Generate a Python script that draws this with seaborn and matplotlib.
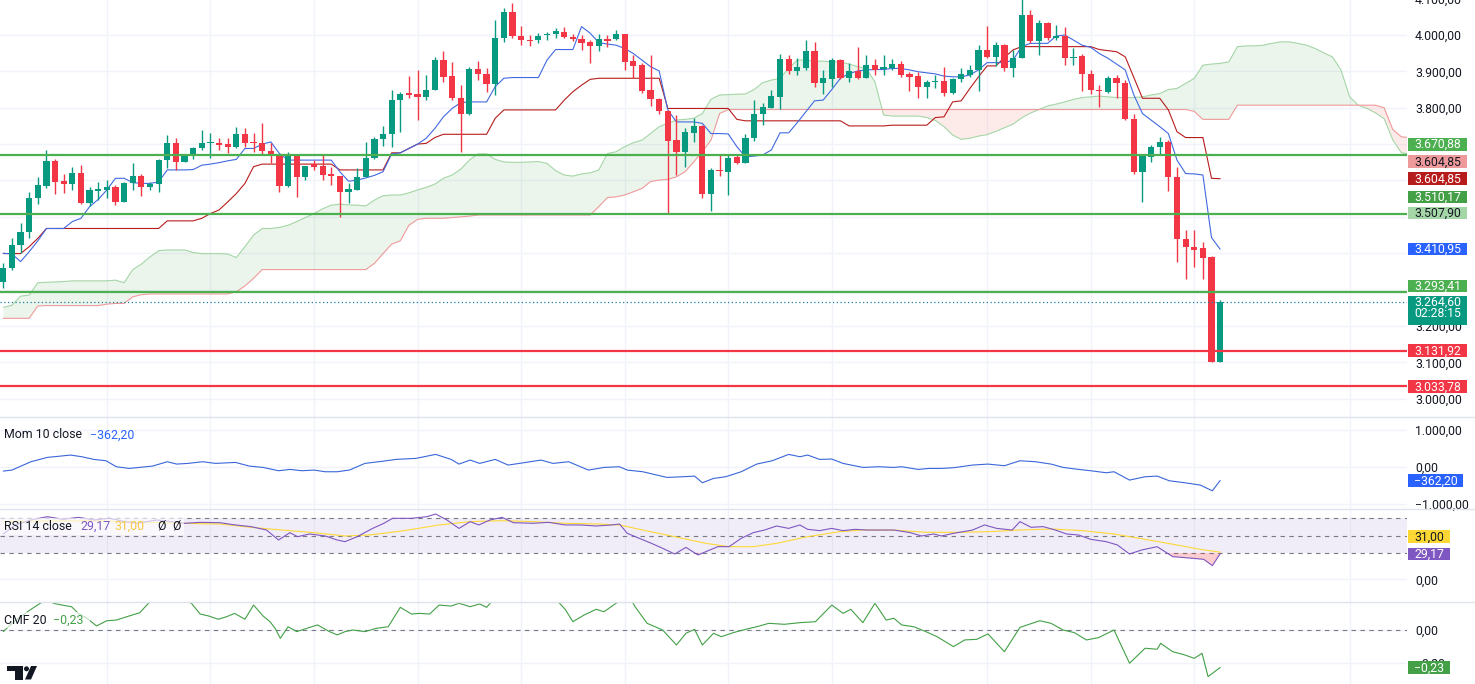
import matplotlib
matplotlib.use("Agg")
import matplotlib.pyplot as plt
import matplotlib.transforms as mtransforms
from matplotlib.patches import Rectangle, Polygon, Ellipse
from matplotlib.lines import Line2D
import numpy as np
import pandas as pd
import seaborn as sns

# ---------------------------------------------------------------- data
opens = [3322, 3358, 3422, 3457, 3551, 3586, 3653, 3598, 3589, 3620,
         3539, 3572, 3574, 3581, 3541, 3592, 3612, 3581, 3590, 3656,
         3702, 3652, 3671, 3688, 3702, 3704, 3699, 3691, 3727, 3706,
         3704, 3682, 3670, 3585, 3670, 3610, 3644, 3640, 3617, 3612,
         3569, 3575, 3610, 3661, 3713, 3727, 3821, 3841, 3837, 3830,
         3850, 3931, 3887, 3828, 3782, 3906, 3893, 3865, 3991, 4064,
         3997, 3986, 3986, 3999, 4002, 4009, 3995, 3988, 3980, 3970,
         3988, 3988, 4002, 3928, 3917, 3849, 3824, 3792, 3711, 3679,
         3731, 3750, 3563, 3629, 3624, 3665, 3649, 3716, 3784, 3800,
         3830, 3933, 3902, 3908, 3957, 3869, 3879, 3931, 3883, 3901,
         3882, 3917, 3906, 3908, 3920, 3892, 3887, 3856, 3871, 3874,
         3841, 3878, 3890, 3904, 3958, 3940, 3972, 3908, 3938, 4055,
         3984, 4034, 3993, 3997, 3938, 3942, 3893, 3850, 3844, 3882,
         3867, 3768, 3624, 3665, 3691, 3706, 3610, 3440, 3418, 3413,
         3390, 3102]
highs = [3372, 3443, 3482, 3569, 3610, 3684, 3658, 3618, 3638, 3642,
         3583, 3596, 3601, 3587, 3596, 3647, 3618, 3595, 3658, 3725,
         3716, 3673, 3693, 3739, 3731, 3716, 3716, 3748, 3743, 3731,
         3759, 3702, 3673, 3677, 3674, 3640, 3656, 3670, 3638, 3612,
         3592, 3633, 3706, 3720, 3750, 3850, 3844, 3887, 3904, 3890,
         3940, 3957, 3926, 3862, 3913, 3928, 3908, 4041, 4073, 4087,
         4025, 4000, 4006, 4009, 4018, 4021, 4004, 4000, 3986, 4002,
         4000, 4014, 4004, 3945, 3922, 3945, 3826, 3794, 3780, 3743,
         3771, 3752, 3633, 3672, 3670, 3670, 3727, 3821, 3812, 3849,
         3948, 3945, 3936, 3986, 3981, 3904, 3938, 3933, 3922, 3966,
         3945, 3934, 3945, 3933, 3929, 3899, 3899, 3876, 3890, 3913,
         3881, 3908, 3917, 3972, 4025, 3981, 3975, 3958, 4100, 4070,
         4041, 4036, 4027, 4021, 3963, 3948, 3904, 3862, 3887, 3890,
         3876, 3784, 3673, 3697, 3720, 3711, 3638, 3465, 3464, 3432,
         3392, 3271]
lows = [3303, 3354, 3400, 3441, 3535, 3580, 3564, 3566, 3575, 3535,
        3530, 3546, 3551, 3532, 3541, 3573, 3557, 3575, 3569, 3633,
        3630, 3650, 3658, 3684, 3661, 3684, 3676, 3688, 3693, 3679,
        3670, 3649, 3569, 3583, 3555, 3601, 3630, 3601, 3587, 3500,
        3539, 3574, 3610, 3658, 3695, 3693, 3734, 3826, 3766, 3821,
        3849, 3871, 3821, 3679, 3780, 3876, 3844, 3835, 3981, 3991,
        3972, 3970, 3977, 3986, 3991, 3991, 3984, 3960, 3924, 3957,
        3968, 3986, 3904, 3881, 3841, 3805, 3784, 3509, 3615, 3638,
        3706, 3553, 3517, 3612, 3560, 3645, 3647, 3709, 3752, 3798,
        3796, 3893, 3890, 3904, 3856, 3838, 3856, 3878, 3871, 3879,
        3881, 3890, 3890, 3904, 3885, 3847, 3828, 3826, 3853, 3832,
        3838, 3871, 3885, 3847, 3938, 3915, 3902, 3885, 3936, 3977,
        3945, 3986, 3986, 3917, 3917, 3847, 3837, 3803, 3841, 3826,
        3766, 3619, 3541, 3651, 3670, 3572, 3376, 3328, 3363, 3328,
        3100, 3100]
closes = [3358, 3422, 3457, 3551, 3587, 3653, 3596, 3589, 3620, 3539,
          3574, 3576, 3581, 3541, 3594, 3612, 3581, 3590, 3656, 3702,
          3652, 3673, 3688, 3702, 3704, 3697, 3691, 3727, 3704, 3702,
          3682, 3667, 3585, 3670, 3610, 3640, 3638, 3615, 3612, 3569,
          3576, 3610, 3661, 3713, 3727, 3821, 3839, 3835, 3830, 3850,
          3931, 3885, 3826, 3784, 3906, 3893, 3865, 3991, 4064, 3997,
          3986, 3983, 3997, 4004, 4011, 3995, 3988, 3979, 3970, 3988,
          3984, 4002, 3926, 3915, 3847, 3823, 3792, 3709, 3679, 3732,
          3750, 3563, 3629, 3625, 3663, 3649, 3716, 3784, 3803, 3832,
          3933, 3901, 3911, 3957, 3869, 3881, 3931, 3881, 3901, 3882,
          3917, 3905, 3911, 3920, 3890, 3885, 3856, 3871, 3873, 3841,
          3878, 3893, 3904, 3958, 3940, 3972, 3908, 3938, 4055, 3984,
          4034, 3993, 3997, 3938, 3940, 3893, 3849, 3847, 3882, 3867,
          3768, 3624, 3670, 3693, 3706, 3610, 3438, 3416, 3410, 3388,
          3102, 3264.60]

tenkan = [3400, 3398, 3377, 3404, 3434, 3468, 3468, 3468, 3487, 3496,
          3528, 3548, 3574, 3606, 3606, 3594, 3592, 3592, 3596, 3629,
          3629, 3629, 3630, 3642, 3645, 3649, 3654, 3658, 3688, 3688,
          3700, 3706, 3674, 3656, 3656, 3656, 3656, 3656, 3656, 3624,
          3598, 3601, 3607, 3614, 3624, 3673, 3676, 3688, 3700, 3716,
          3743, 3775, 3798, 3814, 3816, 3816, 3816, 3858, 3881, 3883,
          3883, 3883, 3883, 3931, 3960, 3960, 3960, 4023, 4005, 3979,
          3975, 3972, 3963, 3949, 3931, 3913, 3901, 3794, 3761, 3761,
          3761, 3757, 3729, 3729, 3728, 3693, 3665, 3667, 3670, 3684,
          3731, 3731, 3759, 3789, 3819, 3821, 3850, 3881, 3894, 3901,
          3904, 3905, 3905, 3908, 3908, 3904, 3899, 3896, 3893, 3887,
          3885, 3885, 3890, 3904, 3924, 3924, 3924, 3931, 3968, 3977,
          3977, 3977, 3997, 4000, 3986, 3972, 3966, 3949, 3936, 3920,
          3904, 3835, 3784, 3766, 3748, 3729, 3656, 3619, 3618, 3615,
          3443, 3410.95]
kijun = [3399, 3399, 3399, 3418, 3441, 3468, 3468, 3468, 3468, 3468,
         3468, 3468, 3468, 3468, 3468, 3468, 3468, 3468, 3468, 3489,
         3489, 3489, 3489, 3496, 3509, 3519, 3541, 3564, 3592, 3638,
         3645, 3645, 3645, 3645, 3645, 3645, 3645, 3645, 3645, 3629,
         3629, 3629, 3629, 3629, 3629, 3676, 3676, 3688, 3700, 3702,
         3718, 3727, 3727, 3727, 3727, 3727, 3727, 3771, 3794, 3794,
         3794, 3794, 3794, 3794, 3794, 3821, 3844, 3862, 3878, 3881,
         3881, 3881, 3881, 3881, 3881, 3881, 3881, 3798, 3798, 3798,
         3798, 3798, 3798, 3798, 3798, 3768, 3764, 3764, 3764, 3764,
         3764, 3764, 3764, 3764, 3764, 3764, 3764, 3764, 3750, 3750,
         3750, 3750, 3750, 3752, 3752, 3752, 3752, 3752, 3773, 3775,
         3816, 3819, 3853, 3885, 3915, 3915, 3938, 3959, 3968, 3968,
         3968, 3968, 3968, 3968, 3968, 3968, 3968, 3960, 3957, 3954,
         3940, 3883, 3826, 3826, 3826, 3794, 3734, 3718, 3718, 3718,
         3606, 3604.85]
span_a = [3251, 3257, 3282, 3285, 3319, 3320, 3321, 3322, 3324, 3324,
          3324, 3324, 3324, 3326, 3319, 3355, 3370, 3390, 3407, 3409,
          3409, 3409, 3402, 3399, 3399, 3399, 3398, 3388, 3418, 3450,
          3468, 3468, 3471, 3477, 3487, 3498, 3509, 3522, 3532, 3535,
          3533, 3532, 3530, 3546, 3558, 3560, 3560, 3566, 3574, 3581,
          3590, 3606, 3615, 3631, 3656, 3673, 3673, 3658, 3651, 3650,
          3650, 3651, 3652, 3647, 3627, 3615, 3612, 3618, 3621, 3629,
          3674, 3679, 3693, 3704, 3711, 3729, 3748, 3757, 3766, 3768,
          3771, 3784, 3823, 3835, 3836, 3837, 3838, 3850, 3869, 3876,
          3881, 3908, 3931, 3931, 3928, 3928, 3926, 3926, 3920, 3913,
          3908, 3871, 3780, 3777, 3777, 3777, 3777, 3773, 3765, 3748,
          3725, 3713, 3716, 3722, 3726, 3735, 3745, 3755, 3772, 3785,
          3795, 3805, 3810, 3816, 3823, 3828, 3830, 3832, 3830, 3828,
          3828, 3828, 3830, 3835, 3839, 3850, 3853, 3867, 3881, 3917,
          3920, 3922, 3926, 3968, 3970, 3970, 3972, 3977, 3981, 3981,
          3977, 3972, 3963, 3951, 3940, 3904, 3830, 3807, 3798, 3786,
          3770, 3712, 3676, 3673]
span_b = [3221, 3221, 3221, 3221, 3255, 3256, 3256, 3256, 3256, 3256,
          3256, 3256, 3260, 3262, 3262, 3280, 3286, 3288, 3288, 3288,
          3288, 3288, 3288, 3288, 3288, 3288, 3288, 3294, 3310, 3331,
          3355, 3355, 3355, 3355, 3355, 3355, 3355, 3355, 3355, 3355,
          3355, 3355, 3355, 3372, 3399, 3425, 3434, 3477, 3493, 3496,
          3496, 3496, 3498, 3500, 3502, 3505, 3505, 3505, 3505, 3505,
          3505, 3505, 3505, 3505, 3505, 3505, 3505, 3505, 3505, 3528,
          3553, 3555, 3560, 3569, 3578, 3597, 3601, 3603, 3610, 3624,
          3651, 3679, 3711, 3784, 3795, 3795, 3795, 3795, 3795, 3795,
          3795, 3795, 3795, 3795, 3795, 3795, 3795, 3795, 3795, 3795,
          3795, 3795, 3795, 3795, 3795, 3795, 3795, 3795, 3795, 3795,
          3795, 3795, 3795, 3795, 3795, 3795, 3795, 3795, 3795, 3795,
          3795, 3795, 3795, 3795, 3795, 3795, 3795, 3795, 3795, 3795,
          3795, 3795, 3795, 3795, 3795, 3795, 3795, 3795, 3790, 3768,
          3768, 3768, 3768, 3807, 3807, 3807, 3807, 3807, 3807, 3807,
          3807, 3807, 3807, 3807, 3807, 3807, 3807, 3807, 3807, 3807,
          3800, 3740, 3720, 3718]

mom_points = [(0, -108), (1.0, -81), (3.2, 144), (5.1, 261), (7.8, 324), (9.1, 279),
              (10.5, 207), (11.9, 171), (13.1, 9), (14.6, -36), (17.3, 27), (19.0, 144),
              (20.1, 81), (21.4, 99), (23.1, 144), (24.6, 99), (26.9, 126), (28.5, 27),
              (30.1, -9), (31.9, -99), (33.2, -63), (34.6, -99), (36.0, -81), (37.3, -126),
              (38.7, -126), (40.1, -81), (41.9, 99), (44.1, 162), (45.5, 207), (47.8, 234),
              (50.1, 342), (51.9, 207), (52.8, 81), (54.1, 189), (55.2, 99), (57.0, 207),
              (58.5, 54), (60.3, 117), (62.3, 189), (63.7, 99), (65.5, 144), (67.8, -81),
              (69.6, -9), (71.4, 9), (72.3, -81), (74.1, -126), (76.9, -279), (78.7, -261),
              (80.1, -243), (81.0, -423), (82.3, -306), (83.7, -261), (85.5, -126), (87.3, 81),
              (89.1, 171), (91.0, 342), (92.3, 279), (93.2, 324), (94.6, 207), (96.0, 216),
              (97.3, 99), (99.6, -9), (101.4, 9), (103.2, -9), (104.1, 9), (106.0, -63),
              (107.3, -36), (108.7, -36), (110.1, -18), (112.3, 54), (114.1, 81), (116.0, 36),
              (117.8, 171), (119.6, 144), (121.4, 81), (122.8, -9), (124.6, -63), (126.0, -99),
              (127.8, -153), (128.7, -126), (130.5, -351), (132.3, -261), (133.7, -243),
              (135.1, -369), (136.9, -423), (138.7, -486), (140.1, -640), (141.0, -362.20)]

rsi_points = [(0, 51.8), (1.4, 62.1), (3.2, 67.8), (5.1, 71.6), (6.9, 68.5), (8.7, 70.8),
              (10.5, 67.8), (12.3, 69.7), (14.1, 65.9), (15.5, 64.0), (17.8, 67.8), (21.0, 64.0),
              (22.8, 65.1), (25.1, 64.7), (26.9, 62.1), (28.7, 60.2), (30.5, 56.3), (31.9, 44.9),
              (33.2, 53.3), (34.1, 48.7), (35.5, 51.8), (37.3, 49.5), (38.7, 44.9), (39.6, 43.0),
              (41.0, 48.7), (42.8, 58.2), (44.1, 64.0), (45.1, 69.7), (47.3, 69.7), (49.1, 71.6),
              (50.1, 74.6), (51.4, 67.8), (52.8, 58.2), (54.1, 65.9), (55.1, 62.1), (56.4, 67.8),
              (57.8, 70.8), (59.1, 64.7), (61.4, 64.0), (63.2, 65.1), (65.1, 62.1), (66.9, 62.1),
              (68.7, 60.9), (70.5, 62.1), (71.4, 63.2), (72.3, 52.5), (73.7, 46.8), (75.1, 41.1),
              (76.4, 35.4), (77.8, 28.9), (79.1, 36.5), (80.5, 27.8), (81.4, 31.6), (82.8, 37.3),
              (84.1, 37.3), (85.5, 46.8), (86.9, 53.3), (88.2, 56.3), (89.6, 60.9), (91.0, 58.2),
              (92.3, 62.1), (93.2, 57.1), (94.6, 55.6), (96.0, 58.2), (97.3, 55.6), (98.7, 57.1),
              (100.1, 56.3), (101.4, 56.3), (103.2, 56.3), (105.1, 53.3), (106.4, 49.5),
              (107.8, 51.8), (108.7, 49.5), (110.1, 52.5), (112.3, 56.3), (113.7, 62.1),
              (115.1, 58.2), (116.9, 56.3), (117.8, 65.9), (119.1, 59.4), (120.5, 60.2),
              (121.9, 56.3), (123.2, 51.8), (124.6, 50.6), (126.0, 45.7), (127.8, 43.0),
              (129.1, 39.2), (130.5, 28.9), (131.9, 33.5), (133.7, 37.3), (135.5, 25.9),
              (137.8, 24.0), (139.1, 22.8), (140.1, 15.6), (141.0, 29.17)]

rsi_ma_points = [(0, 66.0), (10, 67.0), (20.5, 64.0), (25.1, 63.2), (28.7, 59.4), (32.3, 56.3),
                 (36.0, 53.3), (39.6, 49.5), (42.3, 50.6), (44.1, 52.5), (46.9, 56.3),
                 (50.5, 62.1), (54.1, 65.9), (57.8, 67.0), (61.4, 65.9), (65.1, 64.0),
                 (68.7, 63.2), (71.4, 62.1), (74.1, 56.3), (77.8, 48.7), (81.4, 41.1),
                 (84.1, 37.3), (86.9, 37.3), (89.6, 41.1), (93.2, 48.7), (96.9, 54.4),
                 (99.6, 56.3), (103.2, 56.3), (106.9, 53.7), (110.5, 53.7), (114.1, 54.4),
                 (117.8, 56.3), (121.4, 57.5), (125.1, 55.6), (128.7, 51.8), (132.3, 45.7),
                 (136.0, 39.2), (138.7, 34.2), (141.0, 31.00)]

cmf_points = [(0, -0.010), (0.8, 0.031), (1.9, 0.078), (3.1, 0.123), (4.4, 0.168), (5.1, 0.21),
              (5.8, 0.164), (6.8, 0.153), (7.9, 0.143), (8.7, 0.102), (9.7, 0.072), (10.8, 0.025),
              (12.0, 0.057), (13.1, 0.061), (14.1, 0.078), (15.8, 0.106), (16.9, 0.168),
              (18.0, 0.22), (19.5, 0.24), (20.7, 0.20), (21.8, 0.164), (22.8, 0.098),
              (23.8, 0.086), (24.9, 0.066), (25.9, 0.082), (26.8, 0.102), (28.0, 0.066),
              (29.0, 0.153), (30.1, 0.086), (30.9, 0.051), (31.5, 0.010), (32.1, -0.051),
              (33.0, 0.020), (34.0, -0.010), (35.5, 0.016), (36.4, 0.031), (37.8, -0.010),
              (38.7, -0.030), (39.6, -0.010), (40.5, 0.000), (41.9, -0.010), (43.2, 0.010),
              (44.6, 0.020), (46.0, 0.139), (47.3, 0.098), (48.2, 0.102), (49.4, 0.098),
              (50.5, 0.153), (51.9, 0.147), (52.8, 0.164), (54.1, 0.143), (55.2, 0.160),
              (56.0, 0.139), (57.0, 0.20), (58.5, 0.23), (60.0, 0.18), (60.8, 0.17),
              (62.0, 0.21), (64.0, 0.19), (65.1, 0.127), (66.0, 0.051), (67.3, 0.092),
              (68.7, 0.127), (69.6, 0.112), (71.0, 0.164), (72.0, 0.19), (72.8, 0.18),
              (73.2, 0.143), (74.6, 0.041), (76.4, 0.000), (78.0, -0.092), (79.1, -0.020),
              (80.1, 0.004), (81.0, -0.092), (82.3, -0.020), (83.2, -0.041), (84.6, -0.016),
              (86.0, 0.004), (87.3, 0.020), (88.7, 0.041), (90.5, 0.035), (92.3, 0.045),
              (94.1, 0.051), (96.0, 0.153), (97.3, 0.102), (98.2, 0.127), (99.6, 0.045),
              (101.0, 0.164), (102.3, 0.061), (103.2, 0.072), (104.1, 0.031), (105.5, 0.020),
              (106.9, -0.010), (108.2, -0.041), (110.1, -0.102), (111.4, -0.061),
              (112.8, -0.057), (114.1, -0.024), (116.0, -0.133), (117.8, 0.016),
              (120.1, 0.057), (121.4, 0.041), (122.8, 0.000), (124.1, -0.016), (125.5, -0.061),
              (126.9, -0.047), (128.7, 0.000), (130.5, -0.204), (132.3, -0.112),
              (133.7, -0.118), (134.1, -0.082), (135.5, -0.133), (136.9, -0.153),
              (138.0, -0.174), (138.9, -0.143), (139.6, -0.286), (141.0, -0.23)]

green_levels = [3670.88, 3507.90, 3293.41]
red_levels = [3131.92, 3033.78]
last_price = 3264.60
countdown_text = "02:28:15"
mom_last = -362.20
rsi_last = 29.17
rsi_ma_last = 31.00
cmf_last = -0.23

price_grid = [3000, 3100, 3200, 3300, 3400, 3500, 3600, 3700, 3800, 3900, 4000]
price_labels = [3000, 3100, 3200, 3800, 3900, 4000]   # others are hidden behind value tags
top_cut_tick = 4100
grid_bars = [12, 24, 36, 48, 60, 72, 84, 96, 114, 126, 138, 156]
mom_ticks = [1000, 0, -1000]
rsi_ticks = [0]
rsi_levels = [70, 50, 30]
cmf_ticks = [0, -0.2]

# (value, text, face colour, text colour, vertical shift in px, up = negative)
price_tags = [
    (3670.88, "3.670,88", "#4caf50", "white", -10.4),
    (3604.85, "3.604,85", "#ef9a9a", "#131722", -17.0),
    (3604.85, "3.604,85", "#b71c1c", "white", 0.0),
    (3510.17, "3.510,17", "#43a047", "white", -16.3),
    (3507.90, "3.507,90", "#a5d6a7", "#131722", -1.0),
    (3410.95, "3.410,95", "#2962ff", "white", 0.0),
    (3293.41, "3.293,41", "#4caf50", "white", -6.0),
    (3131.92, "3.131,92", "#f23645", "white", 0.0),
    (3033.78, "3.033,78", "#f23645", "white", 0.0),
]

# ---------------------------------------------------------------- style
sns.set_theme(style="white")
plt.rcParams["font.family"] = ["Roboto", "DejaVu Sans"]

W, H = 1475, 684
fig = plt.figure(figsize=(W / 100, H / 100), dpi=100, facecolor="white")

TXT = "#131722"
GRID = "#f0f3fa"
UP = "#089981"
DN = "#f23645"
FS = 8.8
LW = 0.8


def de_fmt(v, nd=2):
    s = f"{abs(v):,.{nd}f}".replace(",", "X").replace(".", ",").replace("X", ".")
    return ("\u2212" if v < 0 else "") + s


def px_rect(x0, y0, x1, y1):
    return [x0 / W, 1 - y1 / H, (x1 - x0) / W, (y1 - y0) / H]


PLOT_R = 1407
ax = fig.add_axes(px_rect(0, 0, PLOT_R, 417))
ax_mom = fig.add_axes(px_rect(0, 417, PLOT_R, 509))
ax_rsi = fig.add_axes(px_rect(0, 509, PLOT_R, 602))
ax_cmf = fig.add_axes(px_rect(0, 602, PLOT_R, 684))

XL = (-0.3824, 162.65)
limits = {ax: (2949.7, 4096.2), ax_mom: (-1131, 1351), ax_rsi: (-25.94, 80.34),
          ax_cmf: (-0.3313, 0.1718)}
gridlines = {ax: price_grid, ax_mom: mom_ticks, ax_rsi: rsi_ticks, ax_cmf: cmf_ticks}
labels = {ax: price_labels, ax_mom: mom_ticks, ax_rsi: rsi_ticks, ax_cmf: cmf_ticks}

for a in (ax, ax_mom, ax_rsi, ax_cmf):
    a.set_facecolor("white")
    for s in a.spines.values():
        s.set_visible(False)
    for g in grid_bars:
        a.axvline(g, color=GRID, lw=1.0, zorder=0)
    for t in gridlines[a]:
        a.axhline(t, color=GRID, lw=1.0, zorder=0)

# ---------------------------------------------------------------- main panel
n = len(closes)
xi = np.arange(n)
o = np.array(opens, float)
c = np.array(closes, float)
hi = np.array(highs, float)
lo = np.array(lows, float)
cols = np.where(c >= o, UP, DN)

# Ichimoku cloud
xc = np.arange(len(span_a))
A = np.array(span_a, float)
B = np.array(span_b, float)
ax.fill_between(xc, A, B, where=A >= B, interpolate=True, color="#43a047", alpha=0.10, lw=0, zorder=1)
ax.fill_between(xc, A, B, where=A < B, interpolate=True, color="#f44336", alpha=0.10, lw=0, zorder=1)
sns.lineplot(x=xc, y=A, ax=ax, color="#a5d6a7", lw=LW, estimator=None, sort=False, zorder=2)
sns.lineplot(x=xc, y=B, ax=ax, color="#ef9a9a", lw=LW, estimator=None, sort=False, zorder=2)
sns.lineplot(x=xi, y=kijun, ax=ax, color="#b71c1c", lw=LW, estimator=None, sort=False, zorder=2)
sns.lineplot(x=xi, y=tenkan, ax=ax, color="#4169e1", lw=LW, estimator=None, sort=False, zorder=2)

# candles
ax.vlines(xi, lo, hi, colors=cols, lw=1.0, zorder=3)
ax.bar(xi, np.maximum(np.abs(c - o), 2.5), bottom=np.minimum(o, c), width=0.72,
       color=cols, lw=0, zorder=4)

for v in green_levels:
    ax.axhline(v, color="#4caf50", lw=1.6, zorder=5)
for v in red_levels:
    ax.axhline(v, color="#f23645", lw=1.6, zorder=5)
ax.axhline(last_price, color="#1f7fa6", lw=0.9, ls=(0, (1, 2)), zorder=5)

# ---------------------------------------------------------------- Mom
mx, my = zip(*mom_points)
sns.lineplot(x=list(mx), y=list(my), ax=ax_mom, color="#3a66d9", lw=LW,
             estimator=None, sort=False, zorder=3)

# ---------------------------------------------------------------- RSI
ax_rsi.axhspan(rsi_levels[2], rsi_levels[0], color="#7e57c2", alpha=0.10, lw=0, zorder=0)
for lv in rsi_levels:
    ax_rsi.axhline(lv, color="#787b86", lw=0.8, ls=(0, (4, 4)), zorder=1)
rx, ry = zip(*rsi_points)
rx = np.array(rx)
ry = np.array(ry)
ax_rsi.fill_between(rx, ry, 30, where=ry < 30, interpolate=True, color="#f23645",
                    alpha=0.25, lw=0, zorder=2)
mx2, my2 = zip(*rsi_ma_points)
sns.lineplot(x=list(mx2), y=list(my2), ax=ax_rsi, color="#fdd835", lw=LW,
             estimator=None, sort=False, zorder=3)
sns.lineplot(x=rx, y=ry, ax=ax_rsi, color="#7e57c2", lw=LW,
             estimator=None, sort=False, zorder=4)

# ---------------------------------------------------------------- CMF
ax_cmf.axhline(0, color="#787b86", lw=0.8, ls=(0, (4, 4)), zorder=1)
cx, cy = zip(*cmf_points)
sns.lineplot(x=list(cx), y=list(cy), ax=ax_cmf, color="#43a047", lw=LW,
             estimator=None, sort=False, zorder=3)

# ---------------------------------------------------------------- axes cosmetics
for a in (ax, ax_mom, ax_rsi, ax_cmf):
    a.set_xlim(*XL)
    a.set_ylim(*limits[a])
    a.set_xlabel("")
    a.set_ylabel("")
    a.set_xticks([])
    a.set_yticks(labels[a])
    a.set_yticklabels([de_fmt(t) for t in labels[a]])
    a.yaxis.tick_right()
    a.tick_params(axis="y", length=0, pad=5.8, labelsize=FS, labelcolor=TXT)
    a.grid(False)

tr_top = mtransforms.offset_copy(
    mtransforms.blended_transform_factory(ax.transAxes, ax.transData),
    fig=fig, x=5.8 * 100 / 72, y=0, units="dots")
ax.text(1.0, top_cut_tick, de_fmt(top_cut_tick), transform=tr_top, ha="left",
        va="center_baseline", fontsize=FS, color=TXT, clip_on=False)

# separators
for ysep in (417, 509, 602):
    fig.add_artist(Line2D([0, 1], [1 - ysep / H] * 2, transform=fig.transFigure,
                          color="#e0e3eb", lw=1.0))


# ---------------------------------------------------------------- value tags
def val_px(a, v):
    return H - a.transData.transform((0, v))[1]


def tag(a, value, text, fc, tc, shift=0.0, w=59, h=12.5, x0=1408):
    yc = val_px(a, value) + shift
    fig.add_artist(Rectangle((x0 / W, 1 - (yc + h / 2) / H), w / W, h / H,
                             transform=fig.transFigure, facecolor=fc, edgecolor="none"))
    fig.text((x0 + w / 2) / W, 1 - (yc + 0.4) / H, text, ha="center", va="center",
             color=tc, fontsize=FS)


for v, t, fc, tc, sh in price_tags:
    tag(ax, v, t, fc, tc, sh)

# current price with countdown
yc = val_px(ax, last_price)
fig.add_artist(Rectangle((1408 / W, 1 - (yc + 22.5) / H), 59 / W, 29 / H,
                         transform=fig.transFigure, facecolor=UP, edgecolor="none"))
fig.text(1437.5 / W, 1 - (yc - 0.5) / H, de_fmt(last_price), ha="center", va="center",
         color="white", fontsize=FS)
fig.text(1437.5 / W, 1 - (yc + 11.2) / H, countdown_text, ha="center", va="center",
         color="white", fontsize=FS)

tag(ax_mom, mom_last, de_fmt(mom_last), "#2962ff", "white", 0, w=55)
tag(ax_rsi, rsi_ma_last, de_fmt(rsi_ma_last), "#fdd835", TXT, -15.5, w=42)
tag(ax_rsi, rsi_last, de_fmt(rsi_last), "#7e57c2", "white", 0, w=42)
tag(ax_cmf, cmf_last, de_fmt(cmf_last), "#43a047", "white", 0, w=42)

# ---------------------------------------------------------------- legends
for (x0, y0, x1, y1) in [(0, 518, 184, 535), (0, 612, 90, 628)]:
    fig.add_artist(Rectangle((x0 / W, 1 - y1 / H), (x1 - x0) / W, (y1 - y0) / H,
                             transform=fig.transFigure, facecolor="white",
                             edgecolor="none", alpha=0.65))


def legend(pieces, y):
    for txt, x, col in pieces:
        fig.text(x / W, 1 - y / H, txt, ha="left", va="center", color=col, fontsize=8.9)


legend([("Mom 10 close", 4, TXT), (de_fmt(mom_last), 90, "#2962ff")], 435)
legend([("RSI 14 close", 4, TXT), (de_fmt(rsi_last), 80, "#7e57c2"),
        (de_fmt(rsi_ma_last), 114, "#f7c843"), ("Ø", 157, TXT), ("Ø", 172, TXT)], 526.5)
legend([("CMF 20", 4, TXT), (de_fmt(cmf_last), 53, "#43a047")], 620)

# ---------------------------------------------------------------- logo
def P(x, y):
    return (x / W, 1 - y / H)


fig.add_artist(Polygon([P(7, 666), P(23.3, 666), P(23.3, 679.5), P(15, 679.5), P(15, 671),
                        P(7, 671)], closed=True, transform=fig.transFigure,
                       facecolor=TXT, edgecolor="none"))
fig.add_artist(Ellipse(P(26.5, 668.8), 5.0 / W, 5.0 / H, transform=fig.transFigure,
                       facecolor=TXT, edgecolor="none"))
fig.add_artist(Polygon([P(25, 679.5), P(31, 679.5), P(37, 666), P(31, 666)], closed=True,
                       transform=fig.transFigure, facecolor=TXT, edgecolor="none"))

fig.savefig("out.png", dpi=100, facecolor="white")
